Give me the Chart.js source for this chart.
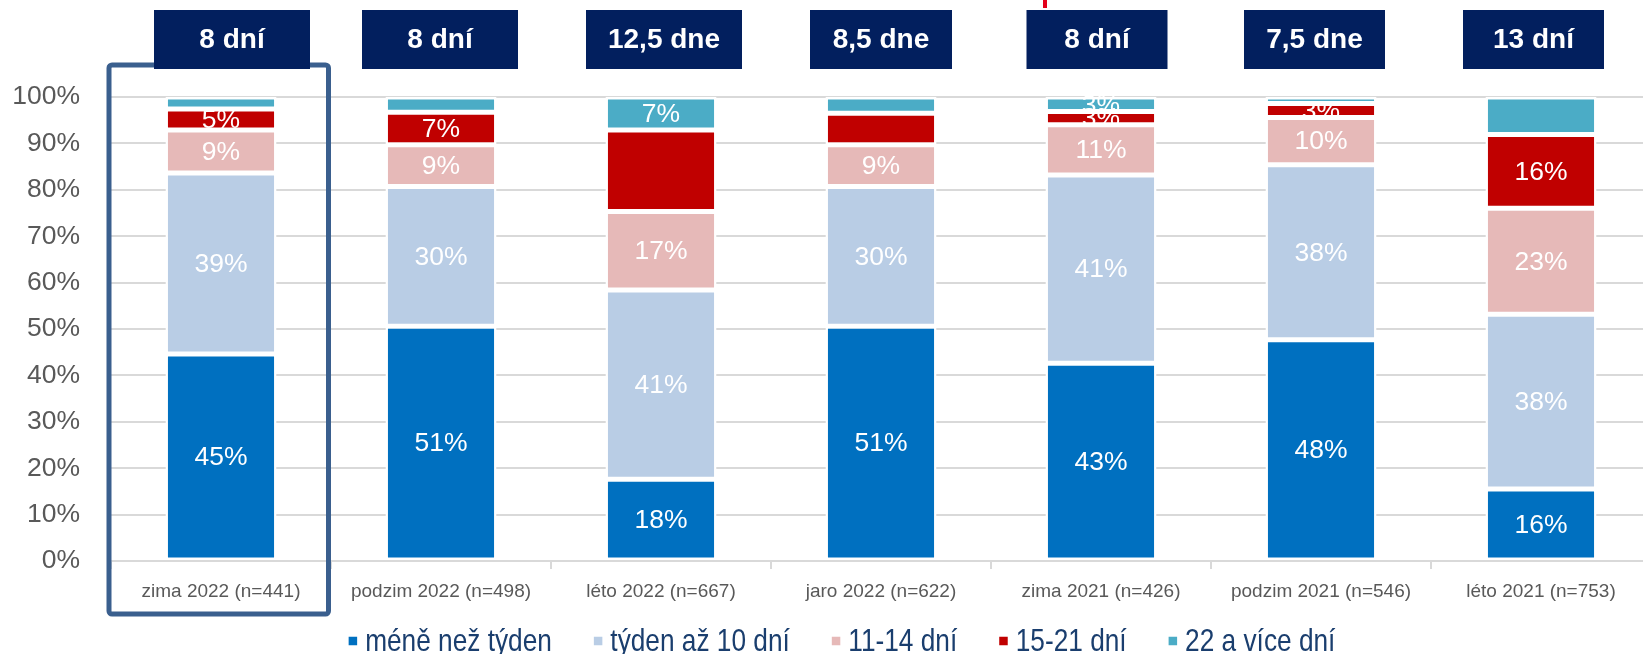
<!DOCTYPE html>
<html>
<head>
<meta charset="utf-8">
<script src="https://cdn.jsdelivr.net/npm/chart.js@4.4.1/dist/chart.umd.min.js"></script>
<style>
  html, body { margin: 0; padding: 0; background: #ffffff; overflow: hidden; }
  #wrap { position: absolute; left: 0; top: 0; width: 1651px; height: 654px; }
</style>
</head>
<body>
<div id="wrap"><canvas id="c" width="1651" height="654"></canvas></div>
<script>
// ---- data ----
const categories = ['zima 2022 (n=441)', 'podzim 2022 (n=498)', 'léto 2022 (n=667)', 'jaro 2022 (n=622)', 'zima 2021 (n=426)', 'podzim 2021 (n=546)', 'léto 2021 (n=753)'];
const durations = ['8 dní', '8 dní', '12,5 dne', '8,5 dne', '8 dní', '7,5 dne', '13 dní'];
const seriesNames = ['méně než týden', 'týden až 10 dní', '11-14 dní', '15-21 dní', '22 a více dní'];
const lessThanWeek = [44.6, 50.6, 17.6, 50.6, 42.6, 47.7, 15.5];
const weekTo10 = [39.0, 30.1, 40.8, 30.1, 40.6, 37.7, 37.7];
const days11to14 = [9.3, 9.0, 16.9, 9.0, 10.8, 10.2, 22.8];
const days15to21 = [4.5, 7.0, 17.6, 6.8, 2.9, 3.0, 15.9];
const days22plus = [2.6, 3.3, 7.1, 3.5, 3.1, 1.4, 8.1];
// printed value labels (null = no label shown)
const lblLessThanWeek = [45, 51, 18, 51, 43, 48, 16];
const lblWeekTo10 = [39, 30, 41, 30, 41, 38, 38];
const lbl11to14 = [9, 9, 17, 9, 11, 10, 23];
const lbl15to21 = [5, 7, null, null, 3, 3, 16];
const lbl22plus = [null, null, 7, null, 3, null, null];
const yTicks = [0, 10, 20, 30, 40, 50, 60, 70, 80, 90, 100];

// ---- styles / layout ----
const colors = ['#0070C0', '#B9CDE5', '#E6B9B8', '#C00000', '#4BACC6'];
// hand-placed header boxes: horizontal nudge from the bar centre and width (px)
const headerShift = [11, -1, 3, 0, -4, -6.5, -7.5];
const headerWidth = [156, 156, 156, 142, 141, 141, 141];

function fontAvailable(name) {
  const c = document.createElement('canvas').getContext('2d');
  c.font = '40px monospace';
  const a = c.measureText('abcdefghijklmnopqrs').width;
  c.font = '40px "' + name + '", monospace';
  return Math.abs(c.measureText('abcdefghijklmnopqrs').width - a) > 0.5;
}
const hasNarrow = fontAvailable('Liberation Sans Narrow');
const baseFont = '"Liberation Sans", Arial, sans-serif';

const valueLabels = [lblLessThanWeek, lblWeekTo10, lbl11to14, lbl15to21, lbl22plus];
const seriesData = [lessThanWeek, weekTo10, days11to14, days15to21, days22plus];

const datasets = seriesNames.map((name, i) => ({
  label: name,
  data: seriesData[i],
  backgroundColor: colors[i],
  borderColor: '#ffffff',
  borderWidth: 2.5,
  borderSkipped: false,
  categoryPercentage: 1.0,
  barPercentage: 0.505
}));

const valueLabelPlugin = {
  id: 'valueLabels',
  afterDatasetsDraw(chart) {
    const ctx = chart.ctx;
    ctx.save();
    ctx.fillStyle = '#ffffff';
    ctx.font = '26.5px ' + baseFont;
    ctx.textAlign = 'center';
    ctx.textBaseline = 'middle';
    chart.data.datasets.forEach((ds, di) => {
      const meta = chart.getDatasetMeta(di);
      meta.data.forEach((el, i) => {
        const v = valueLabels[di][i];
        if (v === null || v === undefined) return;
        ctx.fillText(v + '%', el.x, (el.y + el.base) / 2 + 1);
      });
    });
    ctx.restore();
  }
};

const decorPlugin = {
  id: 'decor',
  afterDraw(chart) {
    const ctx = chart.ctx;
    const xs = chart.scales.x;
    const area = chart.chartArea;
    const catW = xs.width / categories.length;
    ctx.save();
    // highlight frame around first category
    const x0 = xs.getPixelForValue(0);
    const fl = x0 - catW / 2 - 2, fr = x0 + catW / 2 - 2.5;
    const ft = area.top - 32, fb = area.bottom + 53;
    ctx.strokeStyle = '#3A5F8E';
    ctx.lineWidth = 5;
    ctx.lineJoin = 'round';
    ctx.beginPath();
    if (ctx.roundRect) ctx.roundRect(fl, ft, fr - fl, fb - ft, 3); else ctx.rect(fl, ft, fr - fl, fb - ft);
    ctx.stroke();
    // small red mark at top
    ctx.fillStyle = '#E3001B';
    ctx.fillRect(xs.getPixelForValue(4) - 58, 0, 4, 8);
    // duration boxes above bars
    ctx.font = 'bold 28px ' + baseFont;
    ctx.textAlign = 'center';
    ctx.textBaseline = 'middle';
    durations.forEach((t, i) => {
      const cx = xs.getPixelForValue(i) + headerShift[i];
      const w = headerWidth[i];
      ctx.fillStyle = '#021F5E';
      ctx.fillRect(cx - w / 2, 10, w, 59);
      ctx.fillStyle = '#ffffff';
      ctx.fillText(t, cx, 40.5);
    });
    // legend
    const lf = hasNarrow ? '32px "Liberation Sans Narrow", ' + baseFont : '32px ' + baseFont;
    ctx.font = lf;
    const sx = hasNarrow ? 1 : 0.82;
    const sq = 8.5, gapText = 8, gapItem = 42;
    const widths = chart.data.datasets.map(d => ctx.measureText(d.label).width * sx);
    let total = 0;
    widths.forEach((w, i) => { total += sq + gapText + w + (i < widths.length - 1 ? gapItem : 0); });
    let x = 842 - total / 2;
    const ly = 642;
    ctx.textAlign = 'left';
    chart.data.datasets.forEach((d, i) => {
      ctx.fillStyle = d.backgroundColor;
      ctx.fillRect(x, ly - sq / 2 - 1, sq, sq);
      x += sq + gapText;
      ctx.fillStyle = '#1A3E6E';
      ctx.save();
      ctx.translate(x, ly);
      ctx.scale(sx, 1);
      ctx.fillText(d.label, 0, 0);
      ctx.restore();
      x += widths[i] + gapItem;
    });
    ctx.restore();
  }
};

new Chart(document.getElementById('c'), {
  type: 'bar',
  data: { labels: categories, datasets: datasets },
  options: {
    responsive: false,
    animation: false,
    devicePixelRatio: 1,
    layout: { padding: { top: 97, left: 0, right: 0, bottom: 0 } },
    plugins: {
      legend: { display: false },
      tooltip: { enabled: false },
      title: { display: false }
    },
    scales: {
      x: {
        stacked: true,
        offset: true,
        afterFit(s) { s.height = 93; },
        grid: { drawOnChartArea: false, drawTicks: true, tickLength: 8, color: '#D9D9D9', lineWidth: 2 },
        border: { display: true, color: '#D9D9D9', width: 2 },
        ticks: { color: '#595959', font: { family: baseFont, size: 19 }, padding: 11, maxRotation: 0, autoSkip: false }
      },
      y: {
        stacked: true,
        min: 0,
        max: 100,
        afterFit(s) { s.width = 111; },
        afterBuildTicks(s) { s.ticks = yTicks.map(v => ({ value: v })); },
        grid: { color: '#D9D9D9', lineWidth: 2, drawTicks: false },
        border: { display: false },
        ticks: { color: '#595959', font: { family: baseFont, size: 26.5 }, padding: 31, callback: v => v + '%' }
      }
    }
  },
  plugins: [valueLabelPlugin, decorPlugin]
});
</script>
</body>
</html>
